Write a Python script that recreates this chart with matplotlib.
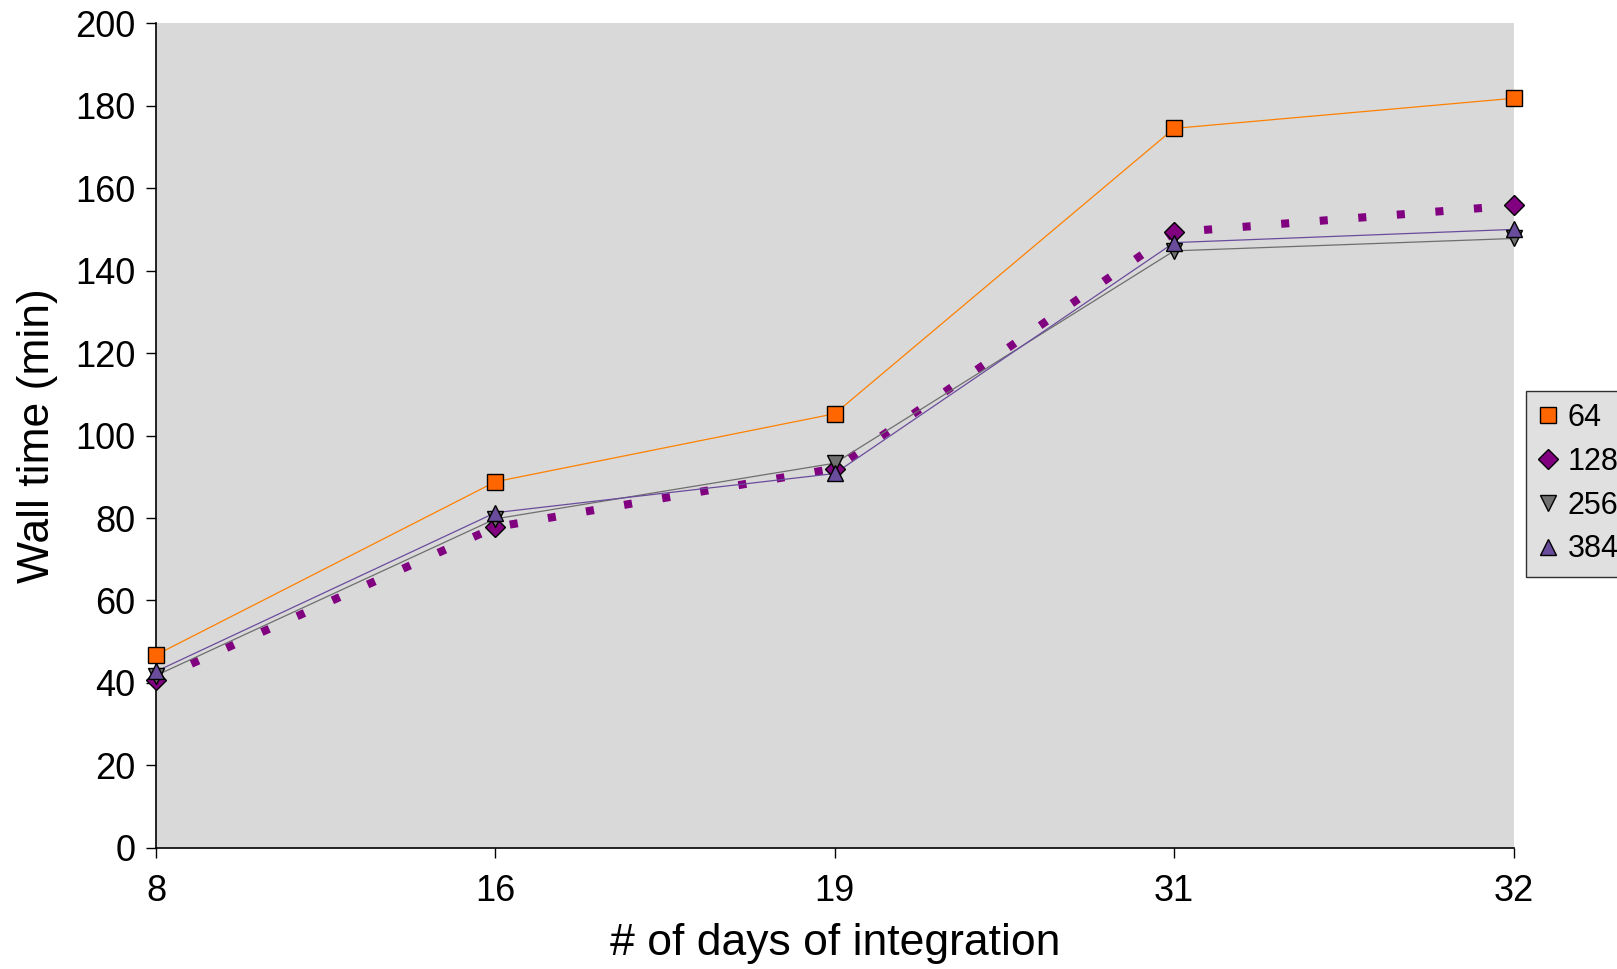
import matplotlib.pyplot as plt
from matplotlib.lines import Line2D

plt.rcParams['font.family'] = ['Liberation Sans', 'DejaVu Sans']

days = ['8', '16', '19', '31', '32']
procs = ['64', '128', '256', '384']
t64 = [46.8, 88.8, 105.3, 174.5, 181.8]
t128 = [40.8, 77.8, 92.0, 149.3, 155.8]
t256 = [41.8, 79.8, 93.3, 144.8, 147.8]
t384 = [42.8, 81.3, 90.8, 146.8, 150.0]

x = list(range(len(days)))

fig = plt.figure(figsize=(16.17, 9.69), dpi=100)
ax = fig.add_axes([0.0965, 0.125, 0.8395, 0.851])
ax.set_facecolor('#d9d9d9')

# dotted purple series drawn as thick square dashes
ax.plot(x, t128, color='#800080', lw=5.8, ls=(0, (1, 3.8)), dash_capstyle='butt', zorder=2)
ax.plot(x, t64, color='#ff8000', lw=0.9, zorder=3)
ax.plot(x, t256, color='#6e6e6e', lw=0.9, zorder=3)
ax.plot(x, t384, color='#6a4c9c', lw=0.9, zorder=3)

ax.plot(x, t128, ls='none', marker='D', ms=10, mfc='#800080', mec='black', mew=1, zorder=4, clip_on=False)
ax.plot(x, t256, ls='none', marker='v', ms=12, mfc='#707070', mec='black', mew=1, zorder=5, clip_on=False)
ax.plot(x, t384, ls='none', marker='^', ms=12, mfc='#6a4c9c', mec='black', mew=1, zorder=6, clip_on=False)
ax.plot(x, t64, ls='none', marker='s', ms=11.5, mfc='#ff6600', mec='black', mew=1, zorder=7, clip_on=False)

ax.set_xlim(0, len(days) - 1)
ax.set_ylim(0, 200)
ax.set_xticks(x)
ax.set_xticklabels(days)
ax.set_yticks(range(0, 201, 20))
ax.tick_params(labelsize=26, length=7, width=1, direction='out')
ax.tick_params(axis='x', pad=12)
ax.tick_params(axis='y', pad=8)
for s in ['top', 'right']:
    ax.spines[s].set_visible(False)
for s in ['left', 'bottom']:
    ax.spines[s].set_linewidth(1.2)

ax.set_xlabel('# of days of integration', fontsize=32, labelpad=10)
ax.set_ylabel('Wall time (min)', fontsize=32, labelpad=12)

handles = [
    Line2D([], [], ls='none', marker='s', ms=11, mfc='#ff6600', mec='black'),
    Line2D([], [], ls='none', marker='D', ms=10, mfc='#800080', mec='black'),
    Line2D([], [], ls='none', marker='v', ms=11, mfc='#707070', mec='black'),
    Line2D([], [], ls='none', marker='^', ms=11, mfc='#6a4c9c', mec='black'),
]
leg = fig.legend(handles, procs, loc='lower left', bbox_to_anchor=(0.944, 0.405),
                 fontsize=22, frameon=True, fancybox=False, handlelength=0.6,
                 handletextpad=0.35, labelspacing=0.45, borderpad=0.4, borderaxespad=0)
leg.get_frame().set_facecolor('#d9d9d9')
leg.get_frame().set_edgecolor('black')
leg.get_frame().set_linewidth(1)

fig.savefig('out.png', dpi=100)
